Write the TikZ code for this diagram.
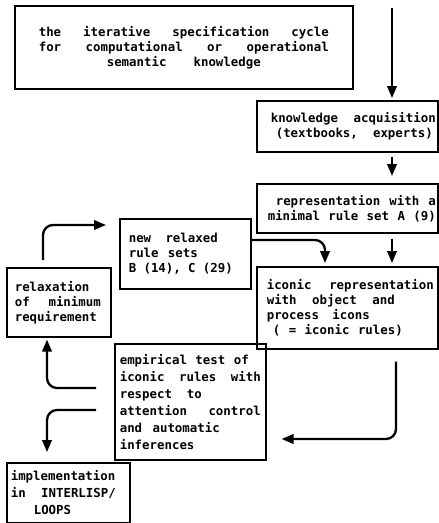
\documentclass[tikz,border=0pt]{standalone}
\usepackage{fontspec}
\setmainfont{DejaVu Sans Mono}
\usetikzlibrary{arrows.meta,calc}
\tikzset{
  boxnode/.style={draw, line width=1.6pt, anchor=north west, inner xsep=0pt, inner ysep=0pt,
    align=left, font=\fontsize{12.4}{15}\selectfont\bfseries},
  wide/.style={font=\fontsize{12.4}{17}\selectfont\bfseries},
  arr/.style={line width=2.3pt, rounded corners=10pt, -{Triangle[width=9.5pt,length=12pt]}}
}
\newcommand{\bxline}[3]{\hspace*{#1pt}\makebox[#2pt][s]{#3}}
\newcommand{\gap}{\hfill}
\begin{document}
\begin{tikzpicture}[x=1pt,y=-1pt]
\useasboundingbox (0,0) rectangle (439,523);
% boxes
\node[boxnode, align=center, text width=338pt, minimum height=83pt] (title) at (14,5)
 {\makebox[290pt][s]{the\gap iterative\gap specification\gap cycle}\\
  \makebox[290pt][s]{for\gap computational\gap or\gap operational}\\
  \makebox[154pt][s]{semantic\gap knowledge}};
\node[boxnode, text width=181pt, minimum height=51pt] (know) at (256,100)
 {\bxline{14}{165}{knowledge\gap acquisition}\\ \bxline{19}{157}{(textbooks,\gap experts)}};
\node[boxnode, text width=181pt, minimum height=49pt] (rep) at (256,183)
 {\bxline{19}{160}{representation\gap with\gap a}\\ \bxline{11}{168}{minimal\gap rule\gap set\gap A\gap (9)}};
\node[boxnode, text width=181pt, minimum height=82pt] (icon) at (256,266)
 {\bxline{10}{167}{iconic\gap representation}\\ \bxline{10}{128}{with\gap object\gap and}\\
  \bxline{10}{103}{process\gap icons}\\ \bxline{16}{130}{(\gap =\gap iconic\gap rules)}};
\node[boxnode, text width=131pt, minimum height=70pt] (new) at (119,218)
 {\bxline{9}{89}{new\gap relaxed}\\ \bxline{9}{69}{rule\gap sets}\\ \bxline{9}{104}{B\gap (14),\gap C\gap (29)}};
\node[boxnode, text width=104pt, minimum height=69pt] (relax) at (6,267)
 {\bxline{8}{76}{relaxation}\\ \bxline{8}{86}{of\gap minimum}\\ \bxline{8}{92}{requirement}};
\node[boxnode, wide, text width=151pt, minimum height=116pt] (emp) at (114,343)
 {\bxline{5}{129}{empirical\gap test\gap of}\\ \bxline{5}{141}{iconic\gap rules\gap with}\\
  \bxline{5}{82}{respect\gap to}\\ \bxline{5}{141}{attention\gap control}\\
  \bxline{5}{100}{and\gap automatic}\\ \bxline{5}{90}{inferences}};
\node[boxnode, wide, text width=123pt, minimum height=60pt] (impl) at (6,462)
 {\bxline{4}{116}{implementation}\\ \bxline{4}{105}{in\gap INTERLISP/}\\ \bxline{27}{47}{LOOPS}};
% connectors
\coordinate (s1) at (392,8);
\draw[arr, shorten >=2pt] (s1) -- (know.north -| s1);
\draw[arr, shorten <=4pt, shorten >=7pt] (know.south -| s1) -- (rep.north -| s1);
\draw[arr, shorten <=5pt, shorten >=3pt] (rep.south -| s1) -- (icon.north -| s1);
\coordinate (c4) at (325,240);
\draw[arr, shorten >=3pt] (new.east |- c4) -- (c4) -- (icon.north -| c4);
\coordinate (c5) at (43,225);
\draw[arr, shorten <=7pt, shorten >=13pt] (relax.north -| c5) -- (c5) -- (new.west |- c5);
\coordinate (c6) at (47,388);
\draw[arr, shorten <=18pt, shorten >=2pt] (emp.west |- c6) -- (c6) -- (relax.south -| c6);
\coordinate (c7) at (47,410);
\draw[arr, shorten <=18pt, shorten >=10pt] (emp.west |- c7) -- (c7) -- (impl.north -| c7);
\coordinate (c8) at (396,439);
\draw[arr, shorten <=12pt, shorten >=15pt] (icon.south -| c8) -- (c8) -- (emp.east |- c8);
\end{tikzpicture}
\end{document}
